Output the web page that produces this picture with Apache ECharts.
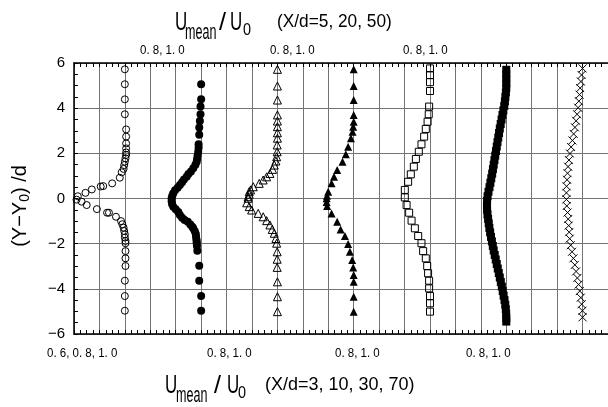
<!DOCTYPE html>
<html><head><meta charset="utf-8">
<script src="https://cdn.jsdelivr.net/npm/echarts@6/dist/echarts.min.js"></script>
<style>html,body{margin:0;padding:0;background:#fff}#c{width:608px;height:407px}</style>
</head><body><div id="c"></div>
<script>
// Stations X/d for the seven profiles (left to right)
const stations = [3, 5, 10, 20, 30, 50, 70];
const bottomTickLabels = ['0. 6, 0. 8, 1. 0', '0. 8, 1. 0', '0. 8, 1. 0', '0. 8, 1. 0'];
const topTickLabels = ['0. 8, 1. 0', '0. 8, 1. 0', '0. 8, 1. 0'];
const yTicks = [-6, -4, -2, 0, 2, 4, 6];

// X/d = 3 (open circles)
const y3 = [5.72, 5.06, 4.39, 3.73, 3.06, 2.74, 2.44, 2.22, 2.04, 1.93, 1.78, 1.63, 1.48, 1.31, 1.16, 0.92, 0.67, 0.55, 0.53, 0.40, 0.25, 0.10, -0.05, -0.14, -0.29, -0.47, -0.63, -0.63, -0.81, -1.00, -1.14, -1.29, -1.44, -1.59, -1.73, -1.88, -1.98, -2.33, -2.65, -2.99, -3.64, -4.32, -4.97];
const u3 = [1.00, 1.00, 1.00, 1.00, 1.01, 1.01, 1.01, 1.01, 1.01, 1.01, 1.005, 1.00, 0.995, 0.99, 0.975, 0.96, 0.90, 0.83, 0.81, 0.74, 0.69, 0.63, 0.62, 0.66, 0.70, 0.78, 0.86, 0.875, 0.93, 0.97, 0.98, 0.99, 0.995, 1.00, 1.00, 1.005, 1.005, 1.005, 1.005, 1.005, 1.00, 1.00, 1.00];

// X/d = 5 (filled circles)
const y5 = [5.06, 4.39, 4.07, 3.73, 3.43, 3.14, 2.82, 2.40, 2.25, 2.07, 1.90, 1.75, 1.63, 1.50, 1.34, 1.20, 1.08, 0.96, 0.84, 0.72, 0.60, 0.48, 0.36, 0.23, 0.12, 0.01, -0.12, -0.24, -0.36, -0.48, -0.60, -0.73, -0.85, -0.95, -1.03, -1.15, -1.25, -1.32, -1.45, -1.57, -1.69, -1.80, -1.90, -1.98, -2.10, -2.31, -2.98, -3.64, -4.32, -4.97];
const u5 = [1.00, 1.00, 0.995, 0.995, 0.99, 0.985, 0.985, 0.98, 0.98, 0.977, 0.972, 0.968, 0.965, 0.955, 0.938, 0.92, 0.90, 0.886, 0.865, 0.85, 0.833, 0.815, 0.795, 0.781, 0.773, 0.768, 0.768, 0.771, 0.781, 0.80, 0.82, 0.833, 0.85, 0.87, 0.895, 0.915, 0.93, 0.938, 0.95, 0.958, 0.96, 0.963, 0.965, 0.965, 0.967, 0.97, 0.985, 0.985, 1.00, 1.00];

// X/d = 10 (open triangles)
const y10 = [5.72, 4.98, 4.36, 3.70, 3.43, 3.18, 2.91, 2.67, 2.37, 2.07, 1.85, 1.66, 1.48, 1.29, 1.11, 0.96, 0.82, 0.67, 0.52, 0.38, 0.30, 0.19, 0.08, 0.01, -0.19, -0.36, -0.51, -0.66, -0.81, -0.98, -1.17, -1.37, -1.54, -1.77, -1.98, -2.36, -2.69, -3.05, -3.69, -4.35, -5.01];
const u10 = [1.00, 1.00, 1.00, 1.00, 1.00, 1.00, 1.00, 1.00, 0.998, 0.998, 0.994, 0.988, 0.975, 0.962, 0.941, 0.915, 0.888, 0.857, 0.81, 0.789, 0.778, 0.778, 0.77, 0.77, 0.758, 0.778, 0.797, 0.849, 0.888, 0.915, 0.941, 0.959, 0.975, 0.988, 0.994, 0.998, 0.998, 0.998, 1.00, 1.00, 1.00];

// X/d = 20 (filled triangles)
const y20 = [5.72, 4.98, 4.36, 3.70, 3.40, 3.18, 2.96, 2.67, 2.29, 1.96, 1.63, 1.26, 0.96, 0.67, 0.30, 0.12, 0.01, -0.15, -0.33, -0.66, -1.03, -1.37, -1.66, -2.02, -2.36, -2.72, -3.05, -3.39, -3.69, -4.35, -5.02];
const u20 = [1.00, 1.00, 1.00, 1.00, 1.00, 0.996, 0.991, 0.978, 0.956, 0.938, 0.912, 0.870, 0.845, 0.826, 0.799, 0.79, 0.787, 0.787, 0.791, 0.826, 0.870, 0.897, 0.931, 0.956, 0.970, 0.988, 0.996, 1.00, 1.00, 1.00, 1.00];

// X/d = 30 (open squares)
const y30 = [5.76, 5.47, 5.15, 4.76, 4.07, 3.73, 3.40, 3.08, 2.74, 2.40, 2.07, 1.75, 1.41, 1.07, 0.74, 0.38, 0.05, -0.29, -0.63, -0.98, -1.32, -1.66, -1.98, -2.33, -2.65, -2.99, -3.31, -3.64, -3.98, -4.32, -4.64, -5.01];
const u30 = [1.00, 1.00, 1.00, 1.00, 0.993, 0.99, 0.981, 0.967, 0.954, 0.933, 0.912, 0.889, 0.873, 0.849, 0.828, 0.802, 0.802, 0.816, 0.836, 0.855, 0.881, 0.907, 0.933, 0.946, 0.967, 0.978, 0.985, 0.993, 0.993, 1.00, 1.00, 1.00];

// X/d = 50 (filled squares)
const y50 = [5.70, 5.50, 5.30, 5.10, 4.90, 4.70, 4.50, 4.30, 4.10, 3.90, 3.70, 3.50, 3.30, 3.10, 2.90, 2.70, 2.50, 2.30, 2.10, 1.90, 1.70, 1.50, 1.30, 1.10, 0.90, 0.70, 0.50, 0.30, 0.10, -0.10, -0.30, -0.50, -0.70, -0.90, -1.10, -1.30, -1.50, -1.70, -1.90, -2.10, -2.30, -2.50, -2.70, -2.90, -3.10, -3.30, -3.50, -3.70, -3.90, -4.10, -4.30, -4.50, -4.70, -4.90, -5.10, -5.30, -5.45];
const u50 = [1.00, 1.00, 1.00, 1.00, 1.00, 0.997, 0.993, 0.989, 0.984, 0.977, 0.970, 0.963, 0.956, 0.949, 0.943, 0.937, 0.931, 0.925, 0.919, 0.913, 0.907, 0.901, 0.895, 0.889, 0.882, 0.875, 0.868, 0.860, 0.853, 0.849, 0.848, 0.849, 0.852, 0.857, 0.862, 0.867, 0.873, 0.880, 0.887, 0.894, 0.901, 0.909, 0.917, 0.925, 0.933, 0.941, 0.949, 0.957, 0.965, 0.972, 0.979, 0.986, 0.992, 0.996, 0.999, 1.00, 1.00];

// X/d = 70 (crosses)
const y70 = [5.76, 5.47, 5.18, 4.89, 4.60, 4.31, 4.02, 3.73, 3.44, 3.15, 2.86, 2.57, 2.28, 1.99, 1.70, 1.41, 1.12, 0.83, 0.54, 0.25, -0.04, -0.33, -0.62, -0.91, -1.20, -1.49, -1.78, -2.07, -2.36, -2.65, -2.94, -3.23, -3.52, -3.81, -4.10, -4.39, -4.68, -4.97, -5.26];
const u70 = [1.00, 0.992, 0.987, 0.981, 0.976, 0.971, 0.965, 0.957, 0.949, 0.940, 0.930, 0.920, 0.910, 0.901, 0.893, 0.886, 0.882, 0.878, 0.874, 0.873, 0.873, 0.876, 0.882, 0.887, 0.891, 0.895, 0.899, 0.907, 0.917, 0.928, 0.939, 0.949, 0.959, 0.969, 0.978, 0.986, 0.993, 0.999, 1.00];

const shift = 0.6; // horizontal offset between successive profiles
const CROSS = 'path://M0,0L10,10M10,0L0,10';
const profiles = [
  {y: y3,  u: u3,  symbol: 'circle',   size: 7, fill: 'rgba(0,0,0,0)', bw: 1},
  {y: y5,  u: u5,  symbol: 'circle',   size: 8, fill: '#000', bw: 0},
  {y: y10, u: u10, symbol: 'triangle', size: 8, fill: 'rgba(0,0,0,0)', bw: 1},
  {y: y20, u: u20, symbol: 'triangle', size: 8, fill: '#000', bw: 0},
  {y: y30, u: u30, symbol: 'rect',     size: 7, fill: 'rgba(0,0,0,0)', bw: 1},
  {y: y50, u: u50, symbol: 'rect',     size: 8, fill: '#000', bw: 0},
  {y: y70, u: u70, symbol: CROSS,      size: 8, fill: 'none', bw: 1}
];

const series = profiles.map((p, k) => ({
  name: 'X/d=' + stations[k],
  type: 'scatter',
  symbol: p.symbol,
  symbolSize: p.size,
  silent: true,
  itemStyle: {color: p.fill, borderColor: '#000', borderWidth: p.bw, opacity: 1},
  data: p.y.map((yy, i) => [p.u[i] + k * shift, yy]),
  z: 5
}));

const gridColor = '#737373';
function xAx(pos) {
  return {
    type: 'value', position: pos, min: 0.6, max: 4.8, interval: 0.2,
    axisLine: {show: true, onZero: false, lineStyle: {color: '#000', width: 1.5}},
    axisTick: {show: true, inside: true, length: 4, lineStyle: {color: '#000', width: 1}},
    minorTick: {show: true, splitNumber: 4, length: 4, lineStyle: {color: '#000', width: 1}},
    axisLabel: {show: false},
    splitLine: {show: pos === 'bottom', lineStyle: {color: gridColor, width: 1}},
    minorSplitLine: {show: false}
  };
}

const tickFont = '12.5px "Liberation Sans", Arial, sans-serif';
const graphics = [];
const bottomLabelX = [47, 207, 335, 466];
bottomTickLabels.forEach((t, i) => graphics.push({type: 'text', x: bottomLabelX[i], y: 354, scaleX: 0.92,
  style: {text: t, font: tickFont, fill: '#000', textAlign: 'left', textVerticalAlign: 'middle'}}));
const topLabelX = [140, 270, 403];
topTickLabels.forEach((t, i) => graphics.push({type: 'text', x: topLabelX[i], y: 51, scaleX: 0.92,
  style: {text: t, font: tickFont, fill: '#000', textAlign: 'left', textVerticalAlign: 'middle'}}));

function titleParts(baseY, uX, meanX, slashX, u2X, zX, parenX, paren, parenScale) {
  const f = 'Liberation Sans, Arial, sans-serif';
  const mk = (text, x, y, size, sx) => ({type: 'text', x: x, y: y, scaleX: sx,
    style: {text: text, font: size + 'px ' + f, fill: '#000', textAlign: 'left', textVerticalAlign: 'middle'}});
  return [
    mk('U', uX, baseY, 26, 0.65),
    mk('mean', meanX, baseY + 10, 22, 0.57),
    mk('/', slashX, baseY + 1, 23, 1.1),
    mk('U', u2X, baseY, 26, 0.65),
    mk('0', zX, baseY + 7, 17, 0.85),
    mk(paren, parenX, baseY - 1, 18, parenScale)
  ];
}
graphics.push(...titleParts(23, 175, 185, 219, 230, 243, 277, '(X/d=5, 20, 50)', 0.96));
graphics.push(...titleParts(386, 165, 176, 214, 227, 238, 265, '(X/d=3, 10, 30, 70)', 1.0));

graphics.push({type: 'text', x: 20, y: 206, rotation: Math.PI / 2,
  style: {text: '{a|(Y\u2212Y}{b|0}{a|) /d}', textAlign: 'center', textVerticalAlign: 'middle',
    rich: {a: {fontSize: 20, fontFamily: 'Liberation Sans', lineHeight: 24, verticalAlign: 'middle', fill: '#000'},
           b: {fontSize: 14, fontFamily: 'Liberation Sans', lineHeight: 14, verticalAlign: 'bottom', fill: '#000'}}}});

const option = {
  animation: false,
  backgroundColor: '#fff',
  grid: {left: 74, right: 0, top: 63, bottom: 73, containLabel: false},
  xAxis: [xAx('bottom'), xAx('top')],
  yAxis: {
    type: 'value', min: yTicks[0], max: yTicks[yTicks.length - 1], interval: 2,
    axisLine: {show: true, onZero: false, lineStyle: {color: '#000', width: 1.5}},
    axisTick: {show: true, inside: true, length: 4, lineStyle: {color: '#000'}},
    minorTick: {show: true, splitNumber: 4, length: 4, lineStyle: {color: '#000'}},
    axisLabel: {show: true, margin: 9, fontSize: 15, fontFamily: 'Liberation Sans', color: '#000',
      formatter: v => String(v).replace('-', '\u2212')},
    splitLine: {show: true, lineStyle: {color: gridColor, width: 1}}
  },
  series: series,
  graphic: graphics
};
const chart = echarts.init(document.getElementById('c'));
chart.setOption(option);
</script>
</body></html>
